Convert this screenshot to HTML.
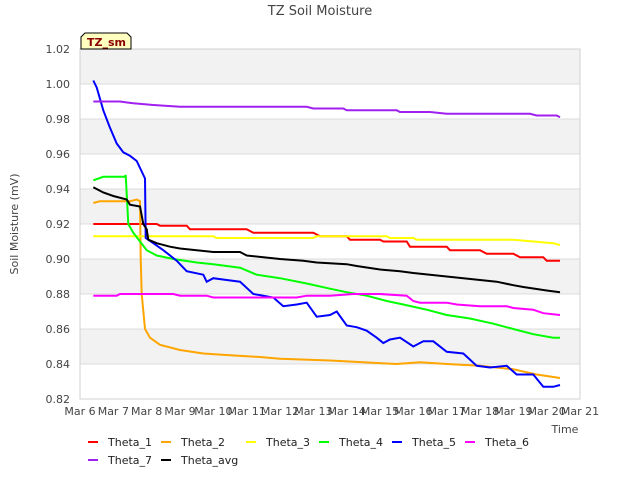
<!DOCTYPE html>
<html><head><meta charset="utf-8"><style>
body{margin:0;background:#fff;font-family:"Liberation Sans","DejaVu Sans",sans-serif}
svg text{font-family:"DejaVu Sans","Liberation Sans",sans-serif}
</style></head><body>
<svg id="chart" width="640" height="480">
<text x="320" y="15" text-anchor="middle" font-size="13" fill="#444">TZ Soil Moisture</text>
<g id="grid"></g>
<g id="series"></g>
<g id="axes"></g>
<g><path d="M81 49 L81 37 L85 33 L127 33 L131 37 L131 49 Z" fill="#ffffc0" stroke="#000"/><text x="87" y="46" font-size="11" font-weight="bold" fill="#8b0000">TZ_sm</text></g>
<text x="18" y="224" transform="rotate(-90 18 224)" text-anchor="middle" font-size="11" fill="#444">Soil Moisture (mV)</text>
<text x="565" y="433" text-anchor="middle" font-size="11" fill="#444">Time</text>
<g id="legend"></g>
</svg>
<script>
const xTicks=["Mar 6","Mar 7","Mar 8","Mar 9","Mar 10","Mar 11","Mar 12","Mar 13","Mar 14","Mar 15","Mar 16","Mar 17","Mar 18","Mar 19","Mar 20","Mar 21"];
const yTicks=[0.82,0.84,0.86,0.88,0.90,0.92,0.94,0.96,0.98,1.00,1.02];
const seriesNames=["Theta_1","Theta_2","Theta_3","Theta_4","Theta_5","Theta_6","Theta_7","Theta_avg"];
const seriesColors=["#ff0000","#ffa500","#ffff00","#00ff00","#0000ff","#ff00ff","#a020f0","#000000"];
const theta1=[[0.4,0.92],[2.3,0.92],[2.4,0.919],[3.2,0.919],[3.3,0.917],[5,0.917],[5.2,0.915],[7,0.915],[7.2,0.913],[8,0.913],[8.1,0.911],[9,0.911],[9.1,0.91],[9.8,0.91],[9.9,0.907],[11,0.907],[11.1,0.905],[12,0.905],[12.2,0.903],[13,0.903],[13.2,0.901],[13.9,0.901],[14,0.899],[14.4,0.899]];
const theta2=[[0.4,0.932],[0.6,0.933],[1.5,0.933],[1.7,0.934],[1.8,0.933],[1.82,0.9],[1.85,0.88],[1.95,0.86],[2.1,0.855],[2.4,0.851],[3,0.848],[3.7,0.846],[4.5,0.845],[5.4,0.844],[6,0.843],[7.5,0.842],[8.5,0.841],[9.5,0.840],[10.2,0.841],[11,0.840],[12,0.839],[13,0.837],[13.7,0.834],[14.4,0.832]];
const theta3=[[0.4,0.913],[4,0.913],[4.1,0.912],[7,0.912],[7.1,0.913],[9.2,0.913],[9.3,0.912],[10,0.912],[10.1,0.911],[13,0.911],[13.6,0.910],[14.2,0.909],[14.4,0.908]];
const theta4=[[0.4,0.945],[0.7,0.947],[1.35,0.947],[1.37,0.948],[1.45,0.92],[1.6,0.915],[1.8,0.91],[2.0,0.905],[2.3,0.902],[2.8,0.900],[3.5,0.898],[4,0.897],[4.8,0.895],[5.3,0.891],[6,0.889],[6.8,0.886],[7.5,0.883],[8,0.881],[8.6,0.879],[9.2,0.876],[9.7,0.874],[10.4,0.871],[11,0.868],[11.7,0.866],[12.4,0.863],[13,0.860],[13.6,0.857],[14.2,0.855],[14.4,0.855]];
const theta5=[[0.4,1.002],[0.5,0.998],[0.7,0.985],[0.9,0.975],[1.1,0.966],[1.3,0.961],[1.5,0.959],[1.7,0.956],[1.85,0.950],[1.95,0.946],[1.97,0.912],[2.2,0.909],[2.5,0.905],[2.9,0.899],[3.2,0.893],[3.7,0.891],[3.8,0.887],[4,0.889],[4.4,0.888],[4.8,0.887],[5.2,0.880],[5.5,0.879],[5.8,0.878],[6.1,0.873],[6.5,0.874],[6.8,0.875],[7.1,0.867],[7.5,0.868],[7.7,0.870],[8,0.862],[8.3,0.861],[8.6,0.859],[8.9,0.855],[9.1,0.852],[9.3,0.854],[9.6,0.855],[10,0.850],[10.3,0.853],[10.6,0.853],[11,0.847],[11.5,0.846],[11.9,0.839],[12.3,0.838],[12.8,0.839],[13.1,0.834],[13.6,0.834],[13.9,0.827],[14.2,0.827],[14.4,0.828]];
const theta6=[[0.4,0.879],[1.1,0.879],[1.2,0.880],[2.8,0.880],[3,0.879],[3.8,0.879],[4,0.878],[6.5,0.878],[6.8,0.879],[7.5,0.879],[8.2,0.880],[9,0.880],[9.8,0.879],[10,0.876],[10.2,0.875],[11,0.875],[11.3,0.874],[12,0.873],[12.8,0.873],[13,0.872],[13.6,0.871],[13.9,0.869],[14.4,0.868]];
const theta7=[[0.4,0.990],[1.2,0.990],[1.6,0.989],[2.2,0.988],[3,0.987],[10,0.987],[12.8,0.986],[13,0.986],[8,0.985].slice(0,0),[13.2,0.985]];
const theta7b=[[0.4,0.990],[1.2,0.990],[1.6,0.989],[2.2,0.988],[3,0.987],[6.8,0.987],[7,0.986],[7.9,0.986],[8,0.985],[9.5,0.985],[9.6,0.984],[10.5,0.984],[11,0.983],[13.5,0.983],[13.7,0.982],[14.3,0.982],[14.4,0.981]];
const thetaAvg=[[0.4,0.941],[0.7,0.938],[1,0.936],[1.4,0.934],[1.5,0.931],[1.8,0.930],[1.9,0.920],[2.0,0.917],[2.05,0.911],[2.3,0.909],[2.7,0.907],[3,0.906],[3.5,0.905],[4,0.904],[4.8,0.904],[5,0.902],[6,0.900],[6.7,0.899],[7.1,0.898],[8,0.897],[8.3,0.896],[9,0.894],[9.6,0.893],[10,0.892],[10.5,0.891],[11.5,0.889],[12,0.888],[12.5,0.887],[13,0.885],[13.3,0.884],[14,0.882],[14.4,0.881]];
const allSeries=[theta1,theta2,theta3,theta4,theta5,theta6,theta7b,thetaAvg];

const X0=80,X1=580,Y0=399,Y1=49,DMIN=0,DMAX=15,VMIN=0.82,VMAX=1.02;
const xs=d=>X0+(d-DMIN)/(DMAX-DMIN)*(X1-X0);
const ys=v=>Y0-(v-VMIN)/(VMAX-VMIN)*(Y0-Y1);
const NS="http://www.w3.org/2000/svg";
function mk(tag,attrs,parent){const e=document.createElementNS(NS,tag);for(const k in attrs)e.setAttribute(k,attrs[k]);parent.appendChild(e);return e;}
const grid=document.getElementById('grid'),axes=document.getElementById('axes'),ser=document.getElementById('series'),leg=document.getElementById('legend');
for(let i=0;i<yTicks.length-1;i++){
  if(i%2==1){const r=mk('rect',{x:X0,y:ys(yTicks[i+1]),width:X1-X0,height:ys(yTicks[i])-ys(yTicks[i+1]),fill:'#f2f2f2'},grid);
  
  }
}
yTicks.forEach(v=>{
  const l=mk('line',{x1:X0,x2:X1,y1:ys(v),y2:ys(v),stroke:'#dcdcdc'},grid);
  
  
  const t=mk('text',{x:X0-10,y:ys(v)+4,'text-anchor':'end','font-size':11,fill:'#444'},axes);
  t.textContent=v.toFixed(2);
  
  
});
const fr=mk('rect',{x:X0,y:Y1,width:X1-X0,height:Y0-Y1,fill:'none',stroke:'#d0d0d0'},axes);


xTicks.forEach((s,i)=>{
  const t=mk('text',{x:xs(i),y:Y0+16,'text-anchor':'middle','font-size':11,fill:'#444'},axes);
  t.textContent=s;
  
  
});
allSeries.forEach((d,i)=>{
  const p=mk('polyline',{points:d.map(q=>xs(q[0]).toFixed(1)+','+ys(q[1]).toFixed(1)).join(' '),fill:'none',stroke:seriesColors[i],'stroke-width':2},ser);
  
  
});
const legPos=[[88,442],[161,442],[246,442],[319,442],[392,442],[465,442],[88,460],[161,460]];
seriesNames.forEach((n,i)=>{
  const g=mk('g',{},leg);
  
  
  const [lx,ly]=legPos[i];
  mk('line',{x1:lx,x2:lx+10,y1:ly,y2:ly,stroke:seriesColors[i],'stroke-width':2},g);
  const t=mk('text',{x:lx+20,y:ly+4,'font-size':11,fill:'#222'},g);
  t.textContent=n;
});
</script>
</body></html>
